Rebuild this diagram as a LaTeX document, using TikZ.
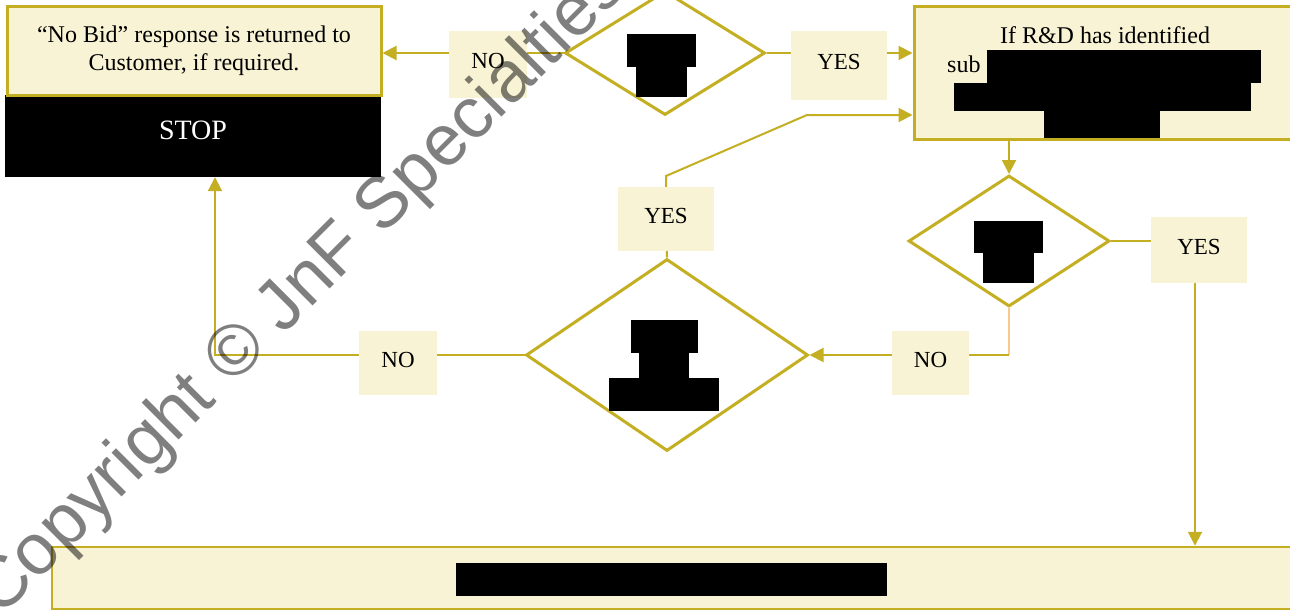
\documentclass[tikz,border=0pt]{standalone}
\usepackage{fontspec}
\setmainfont{Liberation Serif}
\newfontfamily\wmfont{Liberation Sans}
\usetikzlibrary{shapes.geometric,arrows.meta}
\pgfdeclarelayer{background}
\pgfdeclarelayer{canvas}
\pgfsetlayers{canvas,background,main}
\definecolor{gold}{HTML}{C4AE22}
\definecolor{cream}{HTML}{F8F3D4}
\definecolor{peach}{HTML}{FAC88C}
\begin{document}
\begin{tikzpicture}[x=1pt,y=-1pt,
  box/.style={draw=gold, line width=3pt, fill=cream, inner sep=0pt, rectangle},
  dia/.style={draw=gold, line width=3pt, diamond, inner sep=0pt},
  lbl/.style={fill=cream, inner sep=0pt, font=\fontsize{23}{26}\selectfont, text height=16pt, text depth=7pt},
  conn/.style={draw=gold, line width=2pt},
  arr/.style={conn, -{Triangle[length=14pt,width=14pt]}},
  redact/.style={fill=black},
  body/.style={font=\fontsize{24}{28}\selectfont}
]
\useasboundingbox (0,0) rectangle (1290,610);
\clip (0,0) rectangle (1290,610);
\begin{pgfonlayer}{canvas}
\fill[white] (0,0) rectangle (1290,610);
\end{pgfonlayer}

% boxes
\node[fill=black, minimum width=376pt, minimum height=82pt, inner sep=0pt] (stop) at (193,136) {};
\node[text=white, font=\fontsize{28}{32}\selectfont, anchor=base] (stoptxt) at (193,139) {STOP};
\node[box, minimum width=374pt, minimum height=88pt, align=center, body] (nobid) at (194,51) {“No Bid” response is returned to\\Customer, if required.};

\node[box, minimum width=390pt, minimum height=132pt] (rnd) at (1109,73) {};
\node[body, anchor=base, inner sep=0pt] (rndt1) at (1105,44) {If R\&D has identified};
\node[body, anchor=base west, inner sep=0pt] (rndt2) at (947,72) {sub};

\node[box, line width=2.5pt, minimum width=1250pt, minimum height=62pt] (final) at (677,578) {};

% diamonds
\node[dia, minimum width=200pt, minimum height=124pt] (d1) at (665,53) {};
\node[dia, minimum width=201pt, minimum height=131pt] (d2) at (1009,241) {};
\node[dia, minimum width=282pt, minimum height=192pt] (d3) at (667,355) {};

% coordinates for bends
\coordinate (c1) at (666,176);
\coordinate (c2) at (807,115);
\coordinate (c3) at (1195,241);
\coordinate (c4) at (1009,355);
\coordinate (c5) at (215,355);

% labels
\node[lbl, minimum width=78pt, minimum height=67pt] (no1) at (488,64.5) {NO};
\node[lbl, minimum width=96pt, minimum height=69pt] (yes1) at (839,65.5) {YES};
\node[lbl, minimum width=96pt, minimum height=64pt] (yes2) at (666,219) {YES};
\node[lbl, minimum width=96pt, minimum height=66pt] (yes3) at (1199,250) {YES};
\node[lbl, minimum width=77pt, minimum height=64pt] (no2) at (930.5,363) {NO};
\node[lbl, minimum width=78pt, minimum height=64pt] (no3) at (398,363) {NO};

% connectors
\begin{pgfonlayer}{background}
\draw[arr] (d1.west) -- (d1.west -| nobid.east);
\draw[arr] (d1.east) -- (d1.east -| rnd.west);
\draw[arr] (d3.north) -- (c1) -- (c2) -- (c2 -| rnd.west);
\draw[arr] (rnd.south -| d2.north) -- (d2.north);
\draw[arr] (d2.east) -- (c3) -- (c3 |- final.north);
\draw[draw=peach, line width=2pt] (d2.south) -- (c4);
\draw[arr] (c4) -- (d3.east);
\draw[arr] (d3.west) -- (c5) -- (c5 |- stop.south);
\end{pgfonlayer}

% redactions
\fill[redact] (627,34) rectangle (696,67);
\fill[redact] (636,67) rectangle (687,97);
\fill[redact] (987,50) rectangle (1261,83);
\fill[redact] (954,83) rectangle (1251,111);
\fill[redact] (1044,111) rectangle (1160,138);
\fill[redact] (974,221) rectangle (1043,253);
\fill[redact] (983,253) rectangle (1034,283);
\fill[redact] (631,320) rectangle (698,353);
\fill[redact] (639,353) rectangle (689,378);
\fill[redact] (609,378) rectangle (719,411);
\fill[redact] (456,563) rectangle (887,596);

% watermark
\node[rotate=45, anchor=base west, text=black, text opacity=0.5, inner sep=0pt, font=\wmfont\fontsize{72}{80}\selectfont] (wm) at (0,619) {Copyright © JnF Specialties};
\end{tikzpicture}
\end{document}
